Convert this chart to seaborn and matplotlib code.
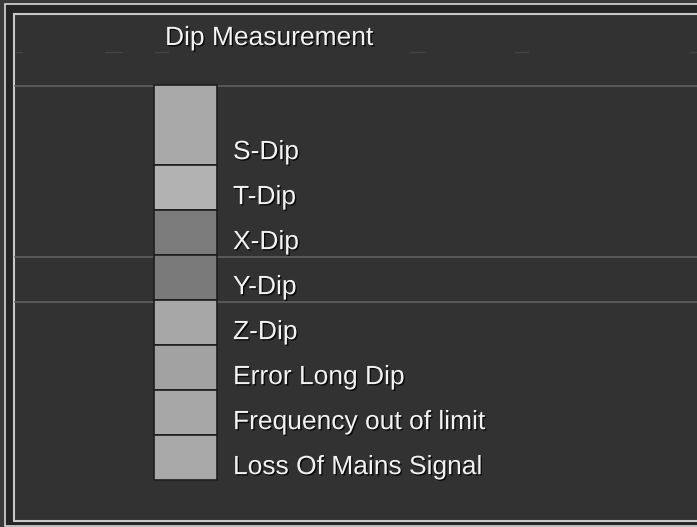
import matplotlib.pyplot as plt
import matplotlib.patheffects as pe
import numpy as np
import seaborn as sns

# legend entries of the dip measurement panel
labels = ['S-Dip', 'T-Dip', 'X-Dip', 'Y-Dip', 'Z-Dip',
          'Error Long Dip', 'Frequency out of limit', 'Loss Of Mains Signal']
swatch_colors = ['#a9a9a9', '#b2b2b2', '#7b7b7b', '#7a7a7a',
                 '#a7a7a7', '#a2a2a2', '#a7a7a7', '#a8a8a8']
row_span = [1.78, 1, 1, 1, 1, 1, 1, 1]   # swatch height in rows
title = 'Dip Measurement'

sns.set_theme(style='dark')
plt.rcParams['font.family'] = ['Liberation Sans', 'DejaVu Sans']

fig = plt.figure(figsize=(6.97, 5.27), dpi=100)
fig.patch.set_facecolor('#3a3a3a')
ax = fig.add_axes([0, 0, 1, 1])
ax.set_xlim(0, 697)
ax.set_ylim(527, 0)
ax.axis('off')

# frame
ax.add_patch(plt.Rectangle((5, 4), 700, 522, fc='#252525', ec='#d8d8d8', lw=1.2))
ax.add_patch(plt.Rectangle((14, 14), 700, 507, fc='#323232', ec='#c8c8c8', lw=1.5))

# faint separator lines
for y in [86, 257, 302]:
    ax.axhline(y, xmin=15 / 697, xmax=1, color='#5c5c5c', lw=1.3, zorder=1)
for x0, x1 in [(15, 22), (105, 122), (155, 168), (410, 425), (515, 528), (690, 697)]:
    ax.plot([x0, x1], [52, 52], color='#444444', lw=1.0, zorder=1)

ROW = 45
heights = np.array(row_span) * ROW
bottoms = 85 + np.concatenate([[0], np.cumsum(heights)[:-1]])

ax.bar(np.full(len(labels), 185.5), heights, bottom=bottoms, width=63,
       color=swatch_colors, edgecolor='#1e1e1e', linewidth=1.2, zorder=3)

shadow = [pe.withSimplePatchShadow(offset=(1, -1), shadow_rgbFace='black', alpha=0.8)]
for lab, b, h in zip(labels, bottoms, heights):
    ax.text(233, b + h - 13, lab, color='#f2f2f2', fontsize=19,
            va='center', ha='left', path_effects=shadow, zorder=4)

ax.text(165, 38, title, color='#f2f2f2', fontsize=19, va='center', ha='left',
        path_effects=shadow, zorder=4)

fig.savefig('out.png', dpi=100, facecolor=fig.get_facecolor())
